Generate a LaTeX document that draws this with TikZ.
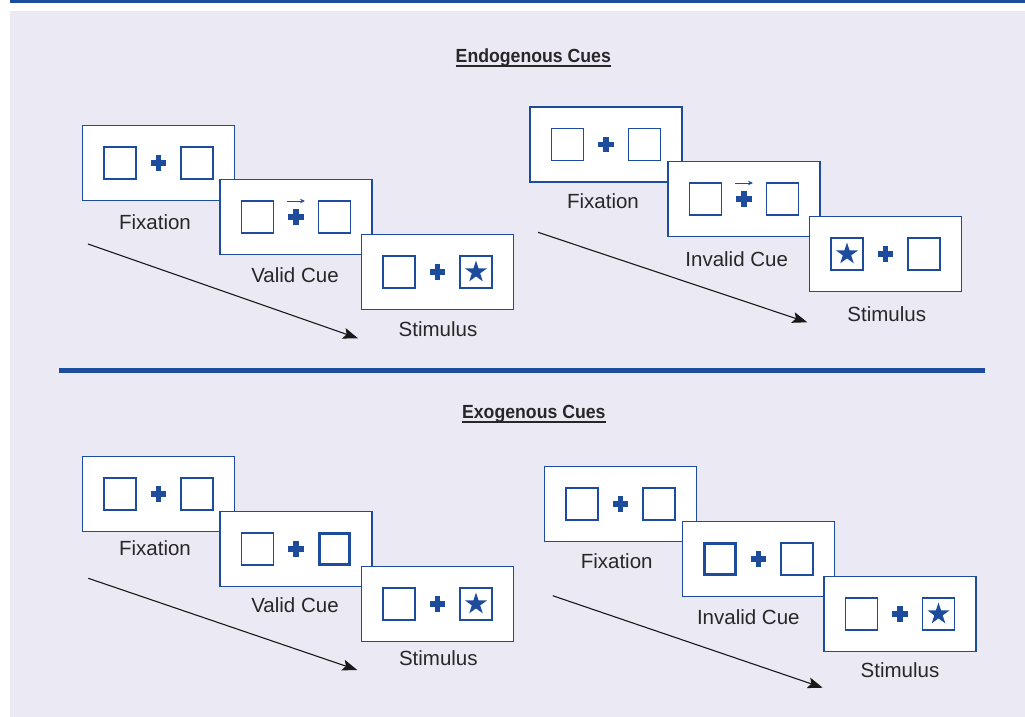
\documentclass[tikz,border=0pt]{standalone}
\usepackage{fontspec}
\setmainfont{Liberation Sans}
\usetikzlibrary{shapes.geometric,arrows.meta,calc}
\definecolor{cueblue}{RGB}{30,76,156}
\definecolor{panelbg}{RGB}{235,234,244}
\definecolor{inkgray}{RGB}{40,38,40}

% one display: white frame with two place-holder squares and a fixation cross
\newcommand\cuepanel[5]{%
  \node[frame] (#1) at (#2,#3) {};
  \node[sq,#4] (#1L) at ([xshift=-38.5pt]#1.center) {};
  \node[sq,#5] (#1R) at ([xshift=38.5pt]#1.center) {};
  \pic at (#1.center) {plusmark};
}
% slightly condensed bold heading
\newcommand\condensedhead[1]{\scalebox{0.93}[1]{#1}}

\begin{document}
\begin{tikzpicture}[x=1pt,y=-1pt,
  frame/.style={draw=cueblue,fill=white,line width=1.4pt,minimum width=152pt,
    minimum height=75pt,inner sep=0pt,outer sep=0pt},
  sq/.style={draw=cueblue,fill=white,line width=1.3pt,minimum size=32pt,inner sep=0pt},
  thicksq/.style={line width=3.4pt,minimum size=30.5pt},
  starmk/.style={star,star points=5,star point ratio=2.618,fill=cueblue,
    minimum size=23pt,inner sep=0pt},
  plusmark/.pic={\fill[cueblue] (-7.8,-2.8) rectangle (7.8,2.8);
                 \fill[cueblue] (-2.8,-7.8) rectangle (2.8,7.8);},
  cuearrow/.style={draw=cueblue,line width=1pt,-{Stealth[length=5pt,width=4.5pt]}},
  timearrow/.style={draw=black!90,line width=1.1pt,-{Stealth[length=15pt,width=11pt,inset=3pt]}},
  lbl/.style={font=\fontsize{20.5}{24}\selectfont,text=inkgray,inner sep=0pt,anchor=base},
  ttl/.style={font=\fontsize{19}{22}\selectfont\bfseries,text=inkgray,inner sep=0pt,anchor=base},
  uline/.style={draw=inkgray,line width=1.5pt}
]
\useasboundingbox (0,0) rectangle (1025,717);

% page background and rules
\fill[panelbg] (10,11) rectangle (1025,717);
\fill[cueblue] (10,0) rectangle (1025,3.2);
\fill[cueblue] (59,368) rectangle (985,373.3);

% ---------------- Endogenous cues ----------------
\node[ttl] (endoT) at (533.3,62.3) {\condensedhead{Endogenous Cues}};
\draw[uline] ($(endoT.base west)+(0,3.8)$) -- ($(endoT.base east)+(0,3.8)$);

% valid trial
\coordinate (enA0) at (88,244);
\coordinate (enA1) at (358,338.3);
\draw[timearrow] (enA0) -- (enA1);
\cuepanel{enF}{158.5}{163}{}{}
\node[lbl] (enFt) at (155,229) {Fixation};
\cuepanel{enV}{296}{217}{}{}
\coordinate (enVa) at ([shift={(-9,-16)}]enV.center);
\coordinate (enVb) at ([shift={(9,-16)}]enV.center);
\draw[cuearrow] (enVa) -- (enVb);
\node[lbl] (enVt) at (295,282.3) {Valid Cue};
\cuepanel{enS}{437.5}{272}{}{}
\node[starmk] (enSstar) at (enSR) {};
\node[lbl] (enSt) at (438,336.7) {Stimulus};

% invalid trial
\coordinate (eiA0) at (538,232.3);
\coordinate (eiA1) at (807.3,322.3);
\draw[timearrow] (eiA0) -- (eiA1);
\cuepanel{eiF}{606}{144.5}{}{}
\node[lbl] (eiFt) at (603,208.3) {Fixation};
\cuepanel{eiI}{744}{199}{}{}
\coordinate (eiIa) at ([shift={(-9,-16)}]eiI.center);
\coordinate (eiIb) at ([shift={(9,-16)}]eiI.center);
\draw[cuearrow] (eiIa) -- (eiIb);
\node[lbl] (eiIt) at (736.7,266) {Invalid Cue};
\cuepanel{eiS}{885.5}{254}{}{}
\node[starmk] (eiSstar) at (eiSL) {};
\node[lbl] (eiSt) at (886.7,321.7) {Stimulus};

% ---------------- Exogenous cues ----------------
\node[ttl] (exoT) at (533.8,418.3) {\condensedhead{Exogenous Cues}};
\draw[uline] ($(exoT.base west)+(0,3.6)$) -- ($(exoT.base east)+(0,3.6)$);

% valid trial
\coordinate (xvA0) at (88.3,578.3);
\coordinate (xvA1) at (357.3,670);
\draw[timearrow] (xvA0) -- (xvA1);
\cuepanel{xvF}{158.5}{494}{}{}
\node[lbl] (xvFt) at (155,555.7) {Fixation};
\cuepanel{xvV}{296}{549}{}{thicksq}
\node[lbl] (xvVt) at (295,612.3) {Valid Cue};
\cuepanel{xvS}{437.5}{604}{}{}
\node[starmk] (xvSstar) at (xvSR) {};
\node[lbl] (xvSt) at (438.3,665.7) {Stimulus};

% invalid trial
\coordinate (xiA0) at (552.7,595.7);
\coordinate (xiA1) at (822.7,687.7);
\draw[timearrow] (xiA0) -- (xiA1);
\cuepanel{xiF}{620.5}{504}{}{}
\node[lbl] (xiFt) at (616.7,568.3) {Fixation};
\cuepanel{xiI}{758.5}{559}{thicksq}{}
\node[lbl] (xiIt) at (748.3,624) {Invalid Cue};
\cuepanel{xiS}{900}{614}{}{}
\node[starmk] (xiSstar) at (xiSR) {};
\node[lbl] (xiSt) at (900,677.7) {Stimulus};

\end{tikzpicture}
\end{document}
